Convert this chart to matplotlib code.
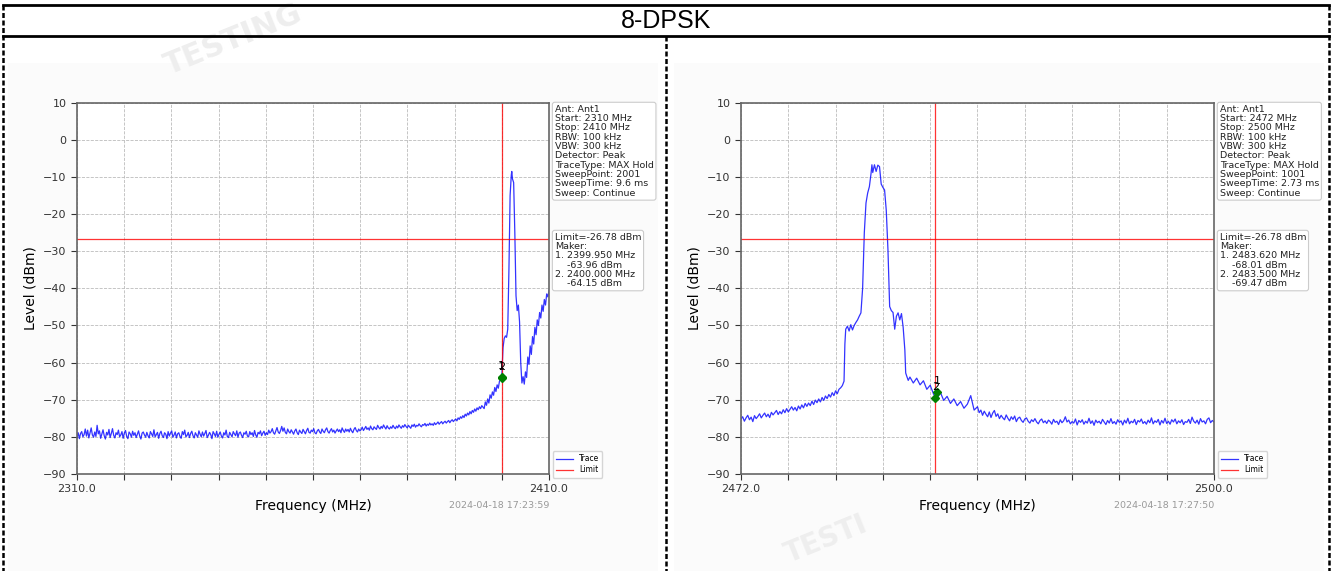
import numpy as np
import matplotlib
matplotlib.use("Agg")
import matplotlib.pyplot as plt
from matplotlib.lines import Line2D
from matplotlib.ticker import FixedLocator, FuncFormatter

title = "8-DPSK"

# ---- left sweep 2310-2410 MHz ----
left_span = (2310.0, 2410.0)
left_floor_span = (2310.0, 2396.0)
left_floor = [
    # 2310-2350
    -80.2, -78.9, -80.5, -79.1, -78.6, -80.0, -79.4, -77.9, -79.8, -78.2, -80.3, -79.0, -77.6, -79.5, -80.1, -78.7, -79.9, -76.9, -79.2, -78.4,
    -80.4, -79.3, -78.1, -79.7, -80.6, -78.8, -79.5, -78.0, -80.2, -79.1, -77.8, -79.6, -80.3, -78.9, -79.4, -78.2, -80.0, -79.5, -78.6, -80.4,
    -79.0, -78.3, -79.9, -80.5, -78.7, -79.2, -80.1, -78.5, -79.6, -78.9, -80.2, -79.3, -78.4, -79.8, -80.6, -79.0, -78.7, -79.5, -80.1, -78.8,
    -79.7, -80.3, -78.6, -79.2, -79.9, -78.1, -80.0, -79.4, -78.8, -80.4, -79.1, -78.5, -79.7, -80.2, -78.9, -79.3, -80.5, -78.6, -79.8, -79.0,
    -78.4, -80.1, -79.5, -78.7, -80.3, -79.2, -78.9, -79.9, -80.4, -78.6, -79.4, -78.2, -80.0, -79.6, -78.8, -80.2, -79.1, -78.5, -79.7, -80.3,
    -78.9, -79.5, -80.1, -78.4, -79.3, -80.0, -78.7, -79.8, -79.1, -78.3, -80.2, -79.6, -78.8, -79.4, -80.5, -78.6, -79.2, -79.9, -78.5, -80.1,
    -79.3, -78.7, -79.8, -80.3, -78.9, -79.5, -78.2, -79.9, -80.2, -78.8, -79.4, -80.0, -78.6, -79.2, -79.7, -78.4, -80.1, -79.0, -78.7, -79.6,
    -80.2, -78.9, -79.3, -78.5, -79.8, -80.0, -78.6, -79.4, -78.9, -79.9, -78.3, -79.5, -80.1, -78.8, -79.2, -78.4, -79.7, -79.0, -78.5, -79.6,
    # 2350-2370
    -78.9, -79.4, -78.2, -79.0, -78.6, -77.8, -78.9, -79.3, -78.4, -77.5, -78.7, -79.1, -78.3, -77.2, -78.5, -77.6, -78.8, -79.2, -77.9, -78.6,
    -79.0, -78.1, -78.7, -79.3, -78.4, -77.9, -78.9, -79.4, -78.2, -78.7, -79.1, -78.0, -78.6, -79.2, -78.3, -77.7, -78.8, -79.0, -78.2, -78.6,
    -77.8, -78.9, -79.2, -78.4, -78.0, -78.7, -79.1, -77.9, -78.5, -78.9, -78.1, -77.6, -78.6, -79.0, -78.3, -77.8, -78.7, -78.2, -79.0, -78.4,
    -77.9, -78.6, -78.1, -78.9, -77.6, -78.3, -78.8, -77.9, -78.5, -78.0, -78.7, -77.7, -78.4, -78.9, -78.0, -77.5, -78.3, -78.7, -77.9, -78.4,
    # 2370-2390
    -78.1, -77.4, -78.3, -77.8, -77.2, -78.0, -77.6, -78.2, -77.1, -77.8, -78.1, -77.3, -77.7, -78.0, -76.9, -77.5, -77.9, -77.2, -77.7, -76.8,
    -77.4, -77.9, -77.0, -77.6, -77.9, -77.3, -77.7, -76.9, -77.5, -77.8, -77.1, -77.6, -76.8, -77.3, -77.7, -77.0, -77.4, -76.7, -77.2, -77.6,
    -76.9, -77.3, -77.7, -76.8, -77.2, -76.6, -77.4, -76.9, -77.1, -76.5, -77.0, -77.3, -76.7, -76.9, -76.4, -77.1, -76.6, -76.9, -76.3, -76.8,
    -76.5, -76.9, -76.2, -76.7, -76.4, -76.0, -76.6, -76.2, -75.9, -76.5, -76.1, -75.8, -76.3, -75.9, -75.6, -76.2, -75.7, -75.4, -75.9, -75.5,
    # 2390-2396
    -75.2, -75.7, -74.9, -75.3, -74.6, -75.0, -74.3, -74.8, -73.9, -74.4, -73.6, -74.1, -73.2, -73.8, -72.9, -73.4, -72.5, -73.1, -72.2, -72.7,
    -71.9, -72.4, -71.6, -72.0,
]
left_peak_freq = [
    2396.25, 2396.5, 2396.75, 2397.0, 2397.25, 2397.5, 2397.75, 2398.0, 2398.25, 2398.5, 2398.75,
    2399.0, 2399.25, 2399.5, 2399.75, 2400.0, 2400.25, 2400.5, 2400.75, 2401.0, 2401.25, 2401.5,
    2401.75, 2402.0, 2402.1, 2402.25, 2402.5, 2402.75, 2403.0, 2403.25, 2403.5, 2403.75, 2404.0,
    2404.25, 2404.5, 2404.75, 2405.0, 2405.25, 2405.5, 2405.75, 2406.0, 2406.25, 2406.5, 2406.75,
    2407.0, 2407.25, 2407.5, 2407.75, 2408.0, 2408.25, 2408.5, 2408.75, 2409.0, 2409.25, 2409.5,
    2409.75, 2410.0,
]
left_peak_level = [
    -72.4, -70.6, -71.5, -69.8, -70.9, -68.7, -69.6, -67.9, -68.8, -66.7, -67.8,
    -66.0, -66.9, -65.0, -64.6, -63.5, -56.0, -53.5, -52.8, -53.2, -51.0, -35.0,
    -15.0, -9.5, -8.5, -10.5, -11.5, -25.0, -42.0, -46.0, -44.5, -49.0, -60.0,
    -65.5, -63.8, -65.8, -62.5, -64.0, -58.5, -60.5, -55.5, -57.8, -53.0, -55.0,
    -50.5, -52.5, -48.5, -50.0, -46.5, -48.0, -44.5, -46.2, -43.0, -44.5, -41.5,
    -42.3, -40.5,
]
left_markers = [(2399.950, -63.96), (2400.000, -64.15)]
left_info = ("Ant: Ant1\nStart: 2310 MHz\nStop: 2410 MHz\nRBW: 100 kHz\nVBW: 300 kHz\n"
             "Detector: Peak\nTraceType: MAX Hold\nSweepPoint: 2001\nSweepTime: 9.6 ms\nSweep: Continue")
left_time = "2024-04-18 17:23:59"

# ---- right sweep 2472-2500 MHz ----
right_span = (2472.0, 2500.0)
right_rise_span = (2472.0, 2478.0)
right_rise = [
    -75.2, -74.6, -75.8, -74.9, -74.2, -75.4, -74.7, -75.9, -74.3, -75.1, -74.5, -73.8, -74.9, -74.2, -73.6, -74.6, -73.9, -74.8, -73.4, -74.1,
    -73.5, -72.9, -74.0, -73.2, -73.8, -72.7, -73.5, -72.4, -73.3, -72.6, -71.9, -72.8, -72.1, -73.0, -71.7, -72.5, -71.4, -72.2, -71.0, -71.8,
    -70.9, -71.6, -70.4, -71.3, -70.1, -70.8, -69.8, -70.6, -69.4, -70.2, -69.0, -69.7, -68.6, -69.3, -68.1, -68.9, -67.6, -68.4, -67.2, -66.8,
    -66.2,
]
right_peak_freq = [
    2478.1, 2478.15, 2478.2, 2478.3, 2478.4, 2478.5, 2478.6, 2478.7, 2478.8, 2478.9, 2479.0, 2479.1,
    2479.2, 2479.3, 2479.4, 2479.5, 2479.6, 2479.7, 2479.75, 2479.8, 2479.9, 2480.0, 2480.1, 2480.2,
    2480.3, 2480.4, 2480.5, 2480.6, 2480.7, 2480.8, 2480.9, 2481.0, 2481.1, 2481.2, 2481.3, 2481.4,
    2481.5, 2481.6, 2481.7, 2481.75, 2481.8, 2481.9, 2482.0, 2482.2, 2482.4, 2482.6, 2482.8, 2483.0,
    2483.2, 2483.4, 2483.6, 2483.8, 2484.0, 2484.2, 2484.4, 2484.6, 2484.8, 2485.0, 2485.2, 2485.4,
    2485.6, 2485.8, 2486.0,
]
right_peak_level = [
    -65.0, -55.0, -51.0, -50.2, -51.5, -49.8, -51.2, -50.0, -49.2, -48.5, -47.5, -46.6,
    -40.0, -25.0, -17.0, -14.3, -12.6, -9.0, -6.7, -8.8, -6.7, -8.5, -6.8, -7.2,
    -11.9, -12.8, -13.5, -19.0, -29.6, -44.9, -46.0, -46.5, -51.0, -47.5, -46.6, -48.5,
    -46.8, -50.5, -56.6, -62.8, -63.5, -64.8, -63.9, -65.5, -64.2, -66.0, -64.9, -67.2,
    -66.1, -68.5, -69.8, -68.0, -70.2, -69.1, -71.0, -69.8, -71.6, -70.5, -72.3, -71.2,
    -68.9, -72.8, -71.9,
]
right_tail_span = (2486.1, 2500.0)
right_tail = [
    -73.5, -72.8, -74.2, -73.1, -73.9, -74.6, -73.3, -74.8, -73.6, -72.9, -74.5, -73.8, -75.1, -74.2, -74.9, -75.4, -74.1, -75.0, -75.7, -74.6,
    -75.3, -74.4, -75.9, -75.0, -74.7, -75.6, -76.1, -75.2, -74.9, -75.8, -76.3, -75.4, -75.9, -75.1, -76.0, -76.5, -75.6, -75.2, -76.2, -75.7,
    -76.4, -75.5, -75.9, -76.6, -75.3, -76.1, -75.8, -76.7, -75.4, -76.2, -75.7, -74.6, -76.0, -75.5, -76.5, -75.9, -76.3, -75.2, -76.8, -75.6,
    -76.1, -75.4, -76.6, -75.8, -76.3, -75.0, -76.4, -75.7, -76.9, -75.5, -76.2, -75.8, -76.5, -75.3, -76.0, -76.7, -75.6, -76.3, -75.1, -76.4,
    -75.9, -76.6, -75.4, -76.1, -75.7, -76.8, -75.5, -76.3, -75.0, -76.5, -75.8, -76.2, -75.3, -76.7, -75.6, -76.0, -75.2, -76.4, -75.9, -76.6,
    -75.5, -76.2, -74.9, -76.5, -75.7, -76.1, -75.3, -76.8, -75.6, -76.3, -75.0, -76.4, -75.8, -76.6, -75.4, -76.0, -75.2, -76.5, -75.7, -76.2,
    -75.4, -76.7, -75.9, -76.1, -75.3, -76.4, -74.7, -75.8, -76.3, -75.5, -76.6, -75.1, -76.0, -75.7, -76.5, -75.3, -74.9, -76.2, -75.6, -76.0,
]
right_markers = [(2483.620, -68.01), (2483.500, -69.47)]
right_info = ("Ant: Ant1\nStart: 2472 MHz\nStop: 2500 MHz\nRBW: 100 kHz\nVBW: 300 kHz\n"
              "Detector: Peak\nTraceType: MAX Hold\nSweepPoint: 1001\nSweepTime: 2.73 ms\nSweep: Continue")
right_time = "2024-04-18 17:27:50"

limit = -26.78
y_ticks = list(range(-90, 11, 10))


def trace(parts):
    f, l = [], []
    for part in parts:
        if isinstance(part[0], tuple):
            span, vals = part
            f += list(np.linspace(span[0], span[1], len(vals)))
            l += list(vals)
        else:
            f += list(part[0])
            l += list(part[1])
    return f, l


def panel(ax, span, freq, level, markers, info, stamp):
    ax.plot(freq, level, color="blue", lw=0.9, alpha=0.8, label="Trace")
    ax.axhline(limit, color="red", lw=0.9, alpha=0.8, label="Limit")
    ax.axvline(markers[1][0], color="red", lw=0.9, alpha=0.8)
    for i, (mf, ml) in enumerate(markers):
        ax.plot(mf, ml, "D", color="green", ms=4.5, zorder=5)
        ax.text(mf, ml + 1.6, str(i + 1), ha="center", va="bottom", fontsize=8, zorder=6)
    ax.set_xlim(*span)
    ax.set_ylim(-90, 10)
    ax.set_yticks(y_ticks)
    ticks = list(np.linspace(span[0], span[1], 11))
    ax.xaxis.set_major_locator(FixedLocator(ticks))
    ax.xaxis.set_major_formatter(FuncFormatter(
        lambda v, p: "%.1f" % v if (abs(v - span[0]) < 1e-6 or abs(v - span[1]) < 1e-6) else ""))
    ax.grid(True, ls="--", lw=0.6, color="#bbbbbb")
    ax.tick_params(labelsize=8, colors="#333333", length=4)
    for s in ax.spines.values():
        s.set_color("#666666")
        s.set_linewidth(1.2)
    ax.set_xlabel("Frequency (MHz)", fontsize=10, labelpad=3)
    ax.set_ylabel("Level (dBm)", fontsize=10)
    box = dict(boxstyle="round,pad=0.25", fc="white", ec="#cccccc", lw=0.8)
    ax.text(1.012, 0.995, info, transform=ax.transAxes, va="top", ha="left",
            fontsize=6.8, linespacing=1.05, color="#222222", bbox=box)
    mtxt = "Limit=%.2f dBm\nMaker:\n" % limit
    mtxt += "\n".join("%d. %.3f MHz\n    %.2f dBm" % (i + 1, mf, ml) for i, (mf, ml) in enumerate(markers))
    ax.text(1.012, 0.65, mtxt, transform=ax.transAxes, va="top", ha="left",
            fontsize=6.8, linespacing=1.05, color="#222222", bbox=box)
    ax.legend(loc="lower left", bbox_to_anchor=(1.0, -0.02), fontsize=5.5, frameon=True,
              handlelength=2.2, borderpad=0.4, labelspacing=0.3, edgecolor="#cccccc", fancybox=True)
    ax.text(1.0, -0.085, stamp, transform=ax.transAxes, ha="right", va="center",
            fontsize=6.8, color="#999999")


fig = plt.figure(figsize=(13.32, 5.71), dpi=100)

# faint page background of the pasted screenshots and watermark
for x0 in (0.006, 0.506):
    fig.patches.append(plt.Rectangle((x0, 0.0), 0.488, 0.89, transform=fig.transFigure,
                                     fc="#fbfbfb", ec="none", zorder=-5))
fig.text(0.175, 0.93, "TESTING", rotation=22, fontsize=22, fontweight="bold",
         color="#eeeeee", ha="center", va="center", zorder=-4)
fig.text(0.62, 0.055, "TESTI", rotation=22, fontsize=20, fontweight="bold",
         color="#eeeeee", ha="center", va="center", zorder=-4)

ax1 = fig.add_axes([0.0578, 0.170, 0.3544, 0.650])
ax2 = fig.add_axes([0.5563, 0.170, 0.3551, 0.650])

f1, l1 = trace([(left_floor_span, left_floor), (left_peak_freq, left_peak_level)])
f2, l2 = trace([(right_rise_span, right_rise), (right_peak_freq, right_peak_level),
                (right_tail_span, right_tail)])
panel(ax1, left_span, f1, l1, left_markers, left_info, left_time)
panel(ax2, right_span, f2, l2, right_markers, right_info, right_time)

# table frame
W, H = 1332.0, 571.0
def px(x, y):
    return x / W, 1 - y / H

for (xa, ya), (xb, yb) in [(px(3, 5), px(1329, 5)), (px(3, 36), px(1329, 36))]:
    fig.add_artist(Line2D([xa, xb], [ya, yb], color="black", lw=2))
for x, y0 in [(3, 5), (666, 36), (1329, 5)]:
    (xa, ya), (xb, yb) = px(x, y0), px(x, 571)
    fig.add_artist(Line2D([xa, xb], [ya, yb], color="black", lw=1.8, ls=(0, (2, 1))))
fig.text(0.5, 1 - 20.5 / H, title, ha="center", va="center", fontsize=18,
         family=["Liberation Sans", "DejaVu Sans"])

plt.savefig("out.png", dpi=100)
